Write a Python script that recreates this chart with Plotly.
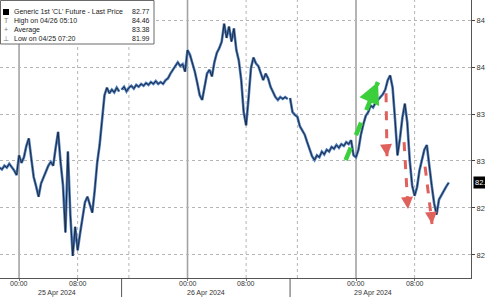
import pandas as pd
import plotly.graph_objects as go

# ---- data ----
session_starts = ["2024-04-24 21:20", "2024-04-25 15:00", "2024-04-28 15:00"]
prices_s1 = [82.93, 82.91, 82.95, 82.93, 82.97, 82.94, 82.90, 82.85, 83.06, 82.98,
             83.04, 83.16, 83.24, 83.03, 82.83, 82.73, 82.62, 82.76, 82.83, 82.88,
             82.95, 82.99, 82.95, 83.14, 83.31, 82.99, 82.74, 82.24, 83.10, 82.43,
             81.99, 82.30, 82.05, 82.23, 82.40, 82.56, 82.62, 82.52, 82.45, 82.69,
             82.98, 83.17, 83.46, 83.70, 83.78, 83.72, 83.76, 83.73, 83.78, 83.74,
             83.77]
prices_s2 = [83.76, 83.79, 83.74, 83.78, 83.80, 83.77, 83.81, 83.79, 83.82, 83.80,
             83.83, 83.81, 83.84, 83.82, 83.85, 83.82, 83.84, 83.82, 83.86, 83.88,
             83.93, 83.97, 84.00, 84.05, 84.01, 84.03, 83.95, 84.18, 84.13, 84.04,
             83.95, 83.83, 83.70, 83.65, 83.78, 83.93, 83.97, 83.90, 84.05, 84.15,
             84.20, 84.27, 84.46, 84.31, 84.43, 84.27, 84.41, 84.18, 84.07, 83.86,
             83.52, 83.38, 83.67, 83.99, 84.10, 84.04, 84.01, 83.93, 83.86, 83.93,
             83.88, 83.79, 83.73, 83.68, 83.65, 83.68, 83.66, 83.68, 83.66, 83.68]
prices_s3 = [83.67, 83.52, 83.49, 83.47, 83.37, 83.33, 83.28, 83.20, 83.12, 83.05,
             83.01, 83.06, 83.04, 83.10, 83.07, 83.12, 83.10, 83.15, 83.13, 83.17,
             83.14, 83.18, 83.16, 83.20, 83.18, 83.22, 83.06, 83.04, 83.12, 83.28,
             83.39, 83.48, 83.52, 83.59, 83.57, 83.62, 83.65, 83.68, 83.71, 83.76,
             83.86, 83.91, 83.78, 83.44, 83.06, 83.24, 83.46, 83.61, 83.41, 83.01,
             82.74, 82.63, 82.72, 82.90, 83.03, 83.12, 83.17, 82.93, 82.74, 82.55,
             82.43, 82.59, 82.64, 82.69, 82.73, 82.77]
sessions = [prices_s1, prices_s2, prices_s3]

legend_labels = ["Generic 1st 'CL' Future - Last Price", "High on 04/26 05:10",
                 "Average", "Low on 04/25 07:20"]
legend_values = ["82.77", "84.46", "83.38", "81.99"]
last_price = 82.77

y_ticks = [82.0, 82.5, 83.0, 83.5, 84.0, 84.5]
y_ticktext = ["82.00", "82.50", "83.00", "83.50", "84.00", "84.50"]
x_ticks = ["2024-04-25 00:00", "2024-04-25 08:00", "2024-04-26 00:00",
           "2024-04-26 08:00", "2024-04-29 00:00", "2024-04-29 08:00"]
x_ticktext = ["00:00", "08:00", "00:00", "08:00", "00:00", "08:00"]
day_labels = ["25 Apr 2024", "26 Apr 2024", "29 Apr 2024"]
day_label_pos = ["2024-04-25 05:10", "2024-04-26 02:35", "2024-04-29 02:20"]
midnights = ["2024-04-25 00:00", "2024-04-26 00:00", "2024-04-29 00:00"]
dotted_times = ["2024-04-25 08:00", "2024-04-25 16:00", "2024-04-26 08:00",
                "2024-04-28 16:00", "2024-04-29 08:00"]
session_bounds = ["2024-04-25 14:00", "2024-04-26 14:00"]

# arrows: (tail time, tail price, head time, head price)
green_arrow = ("2024-04-28 22:35", 83.01, "2024-04-29 03:00", 83.84)
red_arrows = [("2024-04-29 04:06", 83.72, "2024-04-29 04:14", 83.05),
              ("2024-04-29 06:34", 83.20, "2024-04-29 07:06", 82.49),
              ("2024-04-29 09:26", 82.94, "2024-04-29 10:23", 82.33)]

# ---- build series ----
times = []
prices = []
for start, vals in zip(session_starts, sessions):
    times += list(pd.date_range(start, periods=len(vals), freq="20min"))
    prices += vals

W, H = 485, 297
ML, MR, MT, MB = 0, 14, 0, 19
PW, PH = W - ML - MR, H - MT - MB


def px(xp):
    return xp / PW


def py(yp):
    return 1 - yp / PH


FONT = "Liberation Sans, Arial, sans-serif"

fig = go.Figure()
fig.add_trace(go.Scatter(x=times, y=prices, mode="lines",
                         line=dict(color="#4a7cc0", width=2.6), hoverinfo="skip"))
fig.add_trace(go.Scatter(x=times, y=prices, mode="lines",
                         line=dict(color="#1b1f2a", width=0.9)))

shapes = []
for t in midnights:
    shapes.append(dict(type="line", xref="x", yref="paper", x0=t, x1=t, y0=0, y1=1,
                       line=dict(color="#a3a3a3", width=1.6), layer="below"))
for t in dotted_times:
    shapes.append(dict(type="line", xref="x", yref="paper", x0=t, x1=t, y0=0, y1=1,
                       line=dict(color="#b5b5b5", width=1, dash="dot"), layer="below"))
for t in session_bounds:
    shapes.append(dict(type="line", xref="x", yref="paper", x0=t, x1=t, y0=0, y1=-MB / PH,
                       line=dict(color="#555555", width=1)))

# dashed arrow bodies
shapes.append(dict(type="line", xref="x", yref="y", x0=green_arrow[0], y0=green_arrow[1],
                   x1=green_arrow[2], y1=green_arrow[3],
                   line=dict(color="#3ccf3c", width=4.5, dash="dash")))
for a in red_arrows:
    shapes.append(dict(type="line", xref="x", yref="y", x0=a[0], y0=a[1], x1=a[2], y1=a[3],
                       line=dict(color="#e0605c", width=3, dash="dash")))

# legend box
shapes.append(dict(type="rect", xref="paper", yref="paper", x0=px(0.5), x1=px(154),
                   y0=py(44), y1=py(0.5), fillcolor="white",
                   line=dict(color="#6a6a6a", width=1)))
shapes.append(dict(type="rect", xref="paper", yref="paper", x0=px(3), x1=px(9),
                   y0=py(15), y1=py(9), fillcolor="black", line=dict(width=0)))

annotations = []
# arrow heads
annotations.append(dict(x=green_arrow[2], y=green_arrow[3], xref="x", yref="y",
                        ax=-4, ay=9, showarrow=True, arrowhead=2, arrowsize=0.95,
                        arrowwidth=4.5, arrowcolor="#3ccf3c", text=""))
for a in red_arrows:
    annotations.append(dict(x=a[2], y=a[3], xref="x", yref="y", ax=-0.5, ay=-6,
                            showarrow=True, arrowhead=2, arrowsize=0.8, arrowwidth=3,
                            arrowcolor="#e0605c", text=""))

# legend texts
rows_y = [12, 21, 29.5, 38]
symbols = ["", "T", "+", "⊥"]
for i, (lab, val) in enumerate(zip(legend_labels, legend_values)):
    annotations.append(dict(xref="paper", yref="paper", x=px(12), y=py(rows_y[i]),
                            xanchor="left", yanchor="middle", showarrow=False, text=lab,
                            font=dict(family=FONT, size=7, color="#222")))
    annotations.append(dict(xref="paper", yref="paper", x=px(152), y=py(rows_y[i]),
                            xanchor="right", yanchor="middle", showarrow=False, text=val,
                            font=dict(family=FONT, size=7, color="#222")))
    if symbols[i]:
        annotations.append(dict(xref="paper", yref="paper", x=px(6), y=py(rows_y[i]),
                                xanchor="center", yanchor="middle", showarrow=False,
                                text=symbols[i], font=dict(family=FONT, size=7, color="#777")))

# x tick labels (time of day) and day labels
for t, lab in zip(x_ticks, x_ticktext):
    annotations.append(dict(xref="x", yref="paper", x=t, y=-(283.5 - PH) / PH,
                            xanchor="center", yanchor="middle", showarrow=False, text=lab,
                            font=dict(family=FONT, size=7, color="#333")))
for lab, pos in zip(day_labels, day_label_pos):
    annotations.append(dict(xref="x", yref="paper", x=pos, y=-(292.5 - PH) / PH,
                            xanchor="center", yanchor="middle", showarrow=False, text=lab,
                            font=dict(family=FONT, size=7, color="#333")))

# last price tag
annotations.append(dict(xref="paper", yref="y", x=1, y=last_price, xanchor="left",
                        yanchor="middle", xshift=2, showarrow=False,
                        text=f"{last_price:.2f}", bgcolor="black", borderpad=1,
                        font=dict(family=FONT, size=7.5, color="white")))

fig.update_layout(
    width=W, height=H, margin=dict(l=ML, r=MR, t=MT, b=MB, autoexpand=False),
    paper_bgcolor="white", plot_bgcolor="white", showlegend=False,
    shapes=shapes, annotations=annotations,
    xaxis=dict(type="date", range=["2024-04-24 21:24", "2024-04-29 16:42"],
               rangebreaks=[dict(bounds=["2024-04-26 14:00", "2024-04-28 15:00"]),
                            dict(pattern="hour", bounds=[14, 15])],
               tickmode="array", tickvals=x_ticks, showticklabels=False,
               automargin=False,
               showgrid=False, zeroline=False, showline=True, linecolor="#555",
               linewidth=1, mirror=True, ticks="outside", ticklen=2, tickcolor="#777"),
    yaxis=dict(side="right", range=[81.755, 84.713], tickmode="array",
               tickvals=y_ticks, ticktext=y_ticktext, showgrid=True, automargin=False,
               gridcolor="#b5b5b5", griddash="dot", gridwidth=1, zeroline=False,
               showline=True, linecolor="#555", linewidth=1, ticks="outside",
               ticklen=3, tickcolor="#444",
               tickfont=dict(family=FONT, size=7.5, color="#333")),
)

fig.write_html("out.html")
